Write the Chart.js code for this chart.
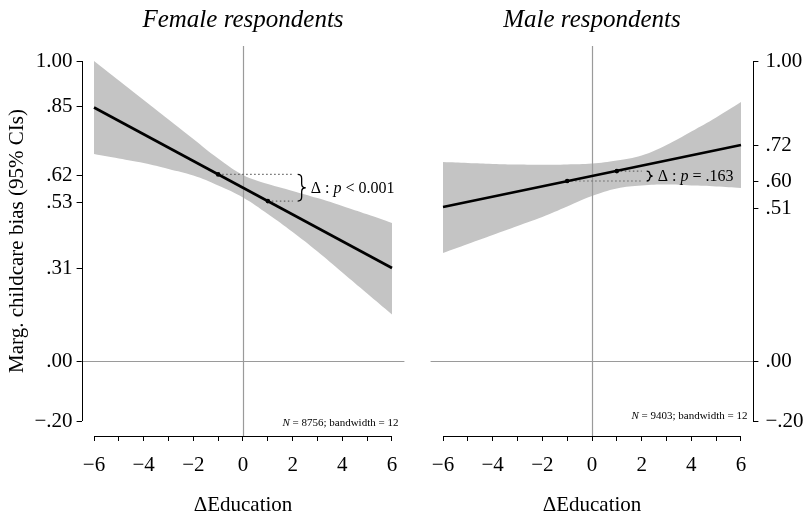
<!DOCTYPE html>
<html>
<head>
<meta charset="utf-8">
<script src="https://cdn.jsdelivr.net/npm/chart.js@4.4.1/dist/chart.umd.min.js"></script>
<style>
  html, body { margin: 0; padding: 0; background: #fff; }
  #wrap { position: relative; width: 808px; height: 515px; }
  canvas { position: absolute; top: 0; }
</style>
</head>
<body>
<div id="wrap">
  <canvas id="female" width="410" height="515" style="left:0"></canvas>
  <canvas id="male" width="398" height="515" style="left:410px"></canvas>
</div>
<script>
// Valores
const xGrid = [-6, -5, -4, -3, -2, -1, 0, 1, 2, 3, 4, 5, 6];
const fitX = [-6, 6];
const cutoffX = [-1, 1];
const bracketEndX = 2;

const femaleFit = [0.845, 0.31];
const femaleMarks = [0.622, 0.533];
const femaleUpper = [1.00, 0.935, 0.87, 0.805, 0.74, 0.675, 0.62, 0.59, 0.567, 0.543, 0.517, 0.489, 0.46];
const femaleLower = [0.69, 0.675, 0.66, 0.64, 0.618, 0.585, 0.545, 0.49, 0.43, 0.365, 0.295, 0.225, 0.155];

const maleFit = [0.513, 0.72];
const maleMarks = [0.60, 0.633];
const maleUpper = [0.663, 0.66, 0.657, 0.655, 0.654, 0.655, 0.658, 0.668, 0.685, 0.72, 0.765, 0.812, 0.863];
const maleLower = [0.36, 0.39, 0.42, 0.45, 0.48, 0.515, 0.55, 0.575, 0.585, 0.588, 0.585, 0.582, 0.577];

const xTicks = [-6, -5, -4, -3, -2, -1, 0, 1, 2, 3, 4, 5, 6];
const xLabels = ['−6', '', '−4', '', '−2', '', '0', '', '2', '', '4', '', '6'];
const femaleYTicks = [-0.2, 0, 0.31, 0.53, 0.62, 0.85, 1.0];
const femaleYLabels = ['−.20', '.00', '.31', '.53', '.62', '.85', '1.00'];
const maleYTicks = [-0.2, 0, 0.51, 0.60, 0.72, 1.0];
const maleYLabels = ['−.20', '.00', '.51', '.60', '.72', '1.00'];

const SERIF = '"Liberation Serif", "Times New Roman", serif';
const bandColor = '#c4c4c4';
const refColor = '#9a9a9a';

function pts(xs, ys) {
    return xs.map((x, i) => ({ x: x, y: ys[i] }));
}

// desenha uma chave "}" entre yTop e yBot
function drawBrace(ctx, x, yTop, yBot, w) {
    const mid = (yTop + yBot) / 2;
    const q = Math.min(4, (yBot - yTop) / 4);
    const xm = x + w / 2;
    ctx.beginPath();
    ctx.moveTo(x, yTop);
    ctx.quadraticCurveTo(xm, yTop, xm, yTop + q);
    ctx.lineTo(xm, mid - q);
    ctx.quadraticCurveTo(xm, mid, x + w, mid);
    ctx.quadraticCurveTo(xm, mid, xm, mid + q);
    ctx.lineTo(xm, yBot - q);
    ctx.quadraticCurveTo(xm, yBot, x, yBot);
    ctx.stroke();
}

// texto com partes em itálico: [[texto, italico], ...]
function drawParts(ctx, parts, x, y, size, alignRight) {
    let total = 0;
    parts.forEach(p => {
        ctx.font = (p[1] ? 'italic ' : '') + size + 'px ' + SERIF;
        total += ctx.measureText(p[0]).width;
    });
    let cx = alignRight ? x - total : x;
    ctx.textAlign = 'left';
    ctx.textBaseline = 'middle';
    parts.forEach(p => {
        ctx.font = (p[1] ? 'italic ' : '') + size + 'px ' + SERIF;
        ctx.fillText(p[0], cx, y);
        cx += ctx.measureText(p[0]).width;
    });
}

function makePanel(p) {
    const decor = {
        id: 'decor',
        afterDatasetDraw(chart, args) {
            if (args.index !== 4) return;
            const { ctx, chartArea: a, scales: { x, y } } = chart;
            const x0 = Math.round(x.getPixelForValue(0)) + 0.5;
            const y0 = Math.round(y.getPixelForValue(0)) + 0.5;
            ctx.save();
            ctx.strokeStyle = refColor;
            ctx.lineWidth = 1.2;
            ctx.beginPath();
            ctx.moveTo(a.left, y0);
            ctx.lineTo(a.right, y0);
            ctx.moveTo(x0, a.top);
            ctx.lineTo(x0, a.bottom);
            ctx.stroke();
            ctx.restore();
        },
        afterDraw(chart) {
            const { ctx, chartArea: a, scales: { x, y } } = chart;
            ctx.save();
            ctx.strokeStyle = '#000';
            ctx.fillStyle = '#000';
            ctx.lineWidth = 1;

            // eixos
            const ax = Math.round(p.yPos === 'left' ? a.left : a.right) + 0.5;
            const by = Math.round(a.bottom) + 0.5;
            ctx.beginPath();
            ctx.moveTo(ax, y.getPixelForValue(p.yTicks[p.yTicks.length - 1]));
            ctx.lineTo(ax, y.getPixelForValue(p.yTicks[0]));
            ctx.moveTo(x.getPixelForValue(xTicks[0]), by);
            ctx.lineTo(x.getPixelForValue(xTicks[xTicks.length - 1]), by);
            ctx.stroke();

            // título do painel
            ctx.font = 'italic 25px ' + SERIF;
            ctx.textAlign = 'center';
            ctx.textBaseline = 'alphabetic';
            ctx.fillText(p.title, x.getPixelForValue(0), 27);

            // chave e teste
            const ex = x.getPixelForValue(bracketEndX);
            const yA = y.getPixelForValue(p.marks[0]);
            const yB = y.getPixelForValue(p.marks[1]);
            const top = Math.min(yA, yB), bot = Math.max(yA, yB);
            ctx.lineWidth = 1.3;
            drawBrace(ctx, ex + 5, top, bot, p.braceW);
            drawParts(ctx, [['Δ : ', false], ['p', true], [' ' + p.pText, false]],
                ex + 5 + p.braceW + 5, (top + bot) / 2 + 1, 16, false);

            // N e bandwidth
            drawParts(ctx, [['N', true], [' ' + p.nText, false]], a.right - 6, p.nY, 11, true);
            ctx.restore();
        }
    };

    const tickFont = { family: SERIF, size: 21 };

    return new Chart(document.getElementById(p.id), {
        type: 'line',
        data: {
            datasets: [
                { data: pts(fitX, p.fit), borderColor: '#000', borderWidth: 2.6, pointRadius: 0, fill: false },
                { data: pts(cutoffX, p.marks), showLine: false, pointRadius: 2.3, pointBackgroundColor: '#000', pointBorderWidth: 0 },
                { data: pts([cutoffX[0], bracketEndX], [p.marks[0], p.marks[0]]), borderColor: '#666', borderWidth: 1.2, borderDash: [1.5, 2.5], pointRadius: 0, fill: false },
                { data: pts([cutoffX[1], bracketEndX], [p.marks[1], p.marks[1]]), borderColor: '#666', borderWidth: 1.2, borderDash: [1.5, 2.5], pointRadius: 0, fill: false },
                { data: pts(xGrid, p.upper), borderColor: 'rgba(0,0,0,0)', borderWidth: 1, backgroundColor: bandColor, fill: '+1', pointRadius: 0, tension: 0.4 },
                { data: pts(xGrid, p.lower), borderColor: 'rgba(0,0,0,0)', borderWidth: 1, pointRadius: 0, fill: false, tension: 0.4 }
            ]
        },
        options: {
            responsive: false,
            animation: false,
            layout: { padding: p.padding },
            plugins: { legend: { display: false }, tooltip: { enabled: false } },
            scales: {
                x: {
                    type: 'linear',
                    min: -6.5,
                    max: 6.5,
                    afterBuildTicks: s => { s.ticks = xTicks.map(v => ({ value: v })); },
                    afterFit: s => { s.height = 79; },
                    ticks: { callback: (v, i) => xLabels[i], autoSkip: false, maxRotation: 0, padding: 12, color: '#000', font: tickFont },
                    grid: { drawOnChartArea: false, tickLength: 5, color: '#000', lineWidth: 1 },
                    border: { display: false },
                    title: { display: true, text: 'ΔEducation', color: '#000', font: tickFont, padding: { top: 0, bottom: -3 } }
                },
                y: {
                    position: p.yPos,
                    min: -0.25,
                    max: 1.05,
                    afterBuildTicks: s => { s.ticks = p.yTicks.map(v => ({ value: v })); },
                    afterFit: s => { s.width = p.yWidth; },
                    ticks: { callback: (v, i) => p.yLabels[i], autoSkip: false, padding: p.yPad, color: '#000', font: tickFont },
                    grid: { drawOnChartArea: false, tickLength: 5, color: '#000', lineWidth: 1 },
                    border: { display: false },
                    title: {
                        display: p.yTitle !== '',
                        text: p.yTitle,
                        color: '#000',
                        font: tickFont,
                        padding: { top: 5, bottom: 0 }
                    }
                }
            }
        },
        plugins: [decor]
    });
}

makePanel({
    id: 'female',
    title: 'Female respondents',
    fit: femaleFit, marks: femaleMarks, upper: femaleUpper, lower: femaleLower,
    yTicks: femaleYTicks, yLabels: femaleYLabels,
    yPos: 'left', yWidth: 81.6, yPad: 4,
    yTitle: 'Marg. childcare bias (95% CIs)',
    padding: { top: 46, right: 5.6, left: 0, bottom: 0 },
    pText: '< 0.001', braceW: 8,
    nText: '= 8756; bandwidth = 12', nY: 423
});

makePanel({
    id: 'male',
    title: 'Male respondents',
    fit: maleFit, marks: maleMarks, upper: maleUpper, lower: maleLower,
    yTicks: maleYTicks, yLabels: maleYLabels,
    yPos: 'right', yWidth: 54.6, yPad: 7,
    yTitle: '',
    padding: { top: 46, right: 0, left: 20.6, bottom: 0 },
    pText: '= .163', braceW: 6,
    nText: '= 9403; bandwidth = 12', nY: 416
});
</script>
</body>
</html>
